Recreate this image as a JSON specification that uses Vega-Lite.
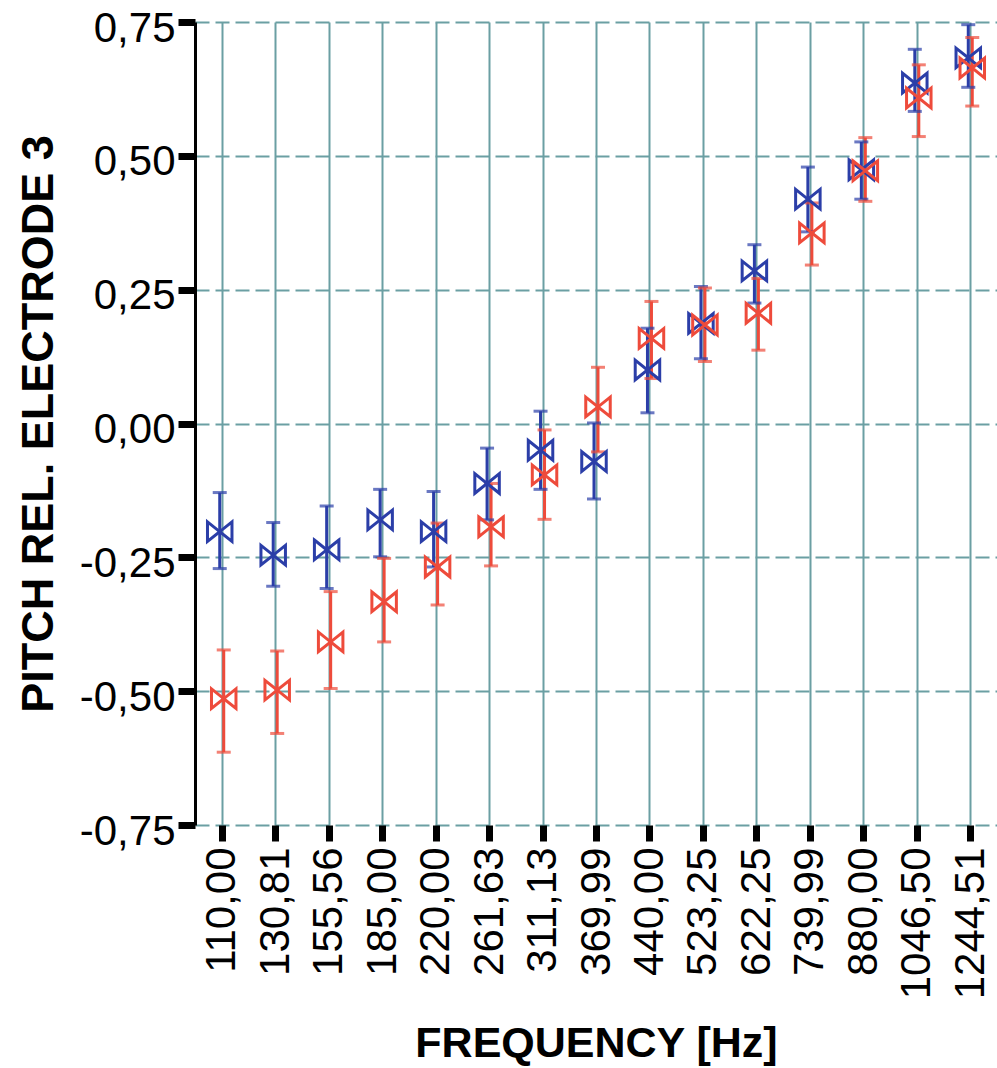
{
  "$schema": "https://vega.github.io/schema/vega-lite/v6.json",
  "width": 802,
  "height": 803,
  "autosize": {"type": "none"},
  "padding": {"left": 195, "top": 22, "right": 0, "bottom": 243},
  "background": "white",
  "config": {"view": {"stroke": null}, "font": "Liberation Sans"},
  "data": {"values": [
    {"freq": "110,00", "series": "A", "mean": -0.202, "lo": -0.271, "hi": -0.129},
    {"freq": "130,81", "series": "A", "mean": -0.246, "lo": -0.304, "hi": -0.185},
    {"freq": "155,56", "series": "A", "mean": -0.236, "lo": -0.308, "hi": -0.154},
    {"freq": "185,00", "series": "A", "mean": -0.180, "lo": -0.249, "hi": -0.123},
    {"freq": "220,00", "series": "A", "mean": -0.202, "lo": -0.268, "hi": -0.127},
    {"freq": "261,63", "series": "A", "mean": -0.112, "lo": -0.180, "hi": -0.046},
    {"freq": "311,13", "series": "A", "mean": -0.050, "lo": -0.123, "hi": 0.023},
    {"freq": "369,99", "series": "A", "mean": -0.071, "lo": -0.141, "hi": 0.001},
    {"freq": "440,00", "series": "A", "mean": 0.100, "lo": 0.020, "hi": 0.178},
    {"freq": "523,25", "series": "A", "mean": 0.187, "lo": 0.121, "hi": 0.256},
    {"freq": "622,25", "series": "A", "mean": 0.285, "lo": 0.225, "hi": 0.334},
    {"freq": "739,99", "series": "A", "mean": 0.419, "lo": 0.358, "hi": 0.479},
    {"freq": "880,00", "series": "A", "mean": 0.474, "lo": 0.419, "hi": 0.526},
    {"freq": "1046,50", "series": "A", "mean": 0.636, "lo": 0.583, "hi": 0.699},
    {"freq": "1244,51", "series": "A", "mean": 0.683, "lo": 0.628, "hi": 0.745},
    {"freq": "110,00", "series": "B", "mean": -0.514, "lo": -0.614, "hi": -0.423},
    {"freq": "130,81", "series": "B", "mean": -0.498, "lo": -0.579, "hi": -0.425},
    {"freq": "155,56", "series": "B", "mean": -0.408, "lo": -0.495, "hi": -0.314},
    {"freq": "185,00", "series": "B", "mean": -0.333, "lo": -0.408, "hi": -0.252},
    {"freq": "220,00", "series": "B", "mean": -0.268, "lo": -0.339, "hi": -0.186},
    {"freq": "261,63", "series": "B", "mean": -0.193, "lo": -0.266, "hi": -0.112},
    {"freq": "311,13", "series": "B", "mean": -0.096, "lo": -0.179, "hi": -0.012},
    {"freq": "369,99", "series": "B", "mean": 0.031, "lo": -0.053, "hi": 0.105},
    {"freq": "440,00", "series": "B", "mean": 0.159, "lo": 0.084, "hi": 0.228},
    {"freq": "523,25", "series": "B", "mean": 0.184, "lo": 0.116, "hi": 0.253},
    {"freq": "622,25", "series": "B", "mean": 0.206, "lo": 0.137, "hi": 0.271},
    {"freq": "739,99", "series": "B", "mean": 0.356, "lo": 0.296, "hi": 0.412},
    {"freq": "880,00", "series": "B", "mean": 0.472, "lo": 0.415, "hi": 0.534},
    {"freq": "1046,50", "series": "B", "mean": 0.608, "lo": 0.536, "hi": 0.670},
    {"freq": "1244,51", "series": "B", "mean": 0.664, "lo": 0.593, "hi": 0.721}
  ]},
  "encoding": {
    "x": {
      "field": "freq", "type": "ordinal", "sort": null,
      "scale": {"type": "point", "padding": 0.5},
      "axis": {
        "title": "FREQUENCY [Hz]",
        "titleFontSize": 43, "titleFontWeight": "bold", "titleColor": "black", "titlePadding": 24,
        "labelAngle": -90, "labelAlign": "right", "labelBaseline": "middle",
        "labelFontSize": 42, "labelColor": "black", "labelPadding": 6,
        "tickColor": "black", "tickWidth": 7, "tickSize": 16,
        "domain": false,
        "grid": true, "gridColor": "#6b9fa3", "gridWidth": 2
      }
    },
    "xOffset": {"field": "series", "type": "nominal", "scale": {"domain": ["A", "B"], "range": [-4, 4]}},
    "color": {"field": "series", "type": "nominal", "scale": {"domain": ["A", "B"], "range": ["#2b3ea8", "#ee4b3b"]}, "legend": null}
  },
  "layer": [
    {
      "mark": {"type": "rule", "strokeWidth": 3},
      "encoding": {
        "y": {
          "field": "lo", "type": "quantitative",
          "scale": {"domain": [-0.75, 0.75], "nice": false, "zero": false},
          "axis": {
            "title": "PITCH REL. ELECTRODE 3",
            "titleFontSize": 45, "titleFontWeight": "bold", "titleColor": "black", "titlePadding": 18,
            "values": [-0.75, -0.5, -0.25, 0, 0.25, 0.5, 0.75],
            "labelExpr": "replace(replace(format(datum.value, '.2f'), '.', ','), '−', '-')",
            "labelFontSize": 42, "labelColor": "black", "labelPadding": 3, "labelOffset": 6,
            "tickColor": "black", "tickWidth": 7, "tickSize": 17,
            "domainColor": "black", "domainWidth": 3,
            "grid": true, "gridColor": "#6b9fa3", "gridWidth": 2, "gridDash": [14, 6]
          }
        },
        "y2": {"field": "hi"}
      }
    },
    {
      "mark": {"type": "tick", "thickness": 3, "size": 14},
      "encoding": {"y": {"field": "lo", "type": "quantitative"}}
    },
    {
      "mark": {"type": "tick", "thickness": 3, "size": 14},
      "encoding": {"y": {"field": "hi", "type": "quantitative"}}
    },
    {
      "mark": {"type": "point", "shape": "M-1,-0.8L0,0L-1,0.8Z M1,-0.8L0,0L1,0.8Z", "size": 600, "strokeWidth": 3, "filled": false, "opacity": 1},
      "encoding": {"y": {"field": "mean", "type": "quantitative"}}
    }
  ]
}
